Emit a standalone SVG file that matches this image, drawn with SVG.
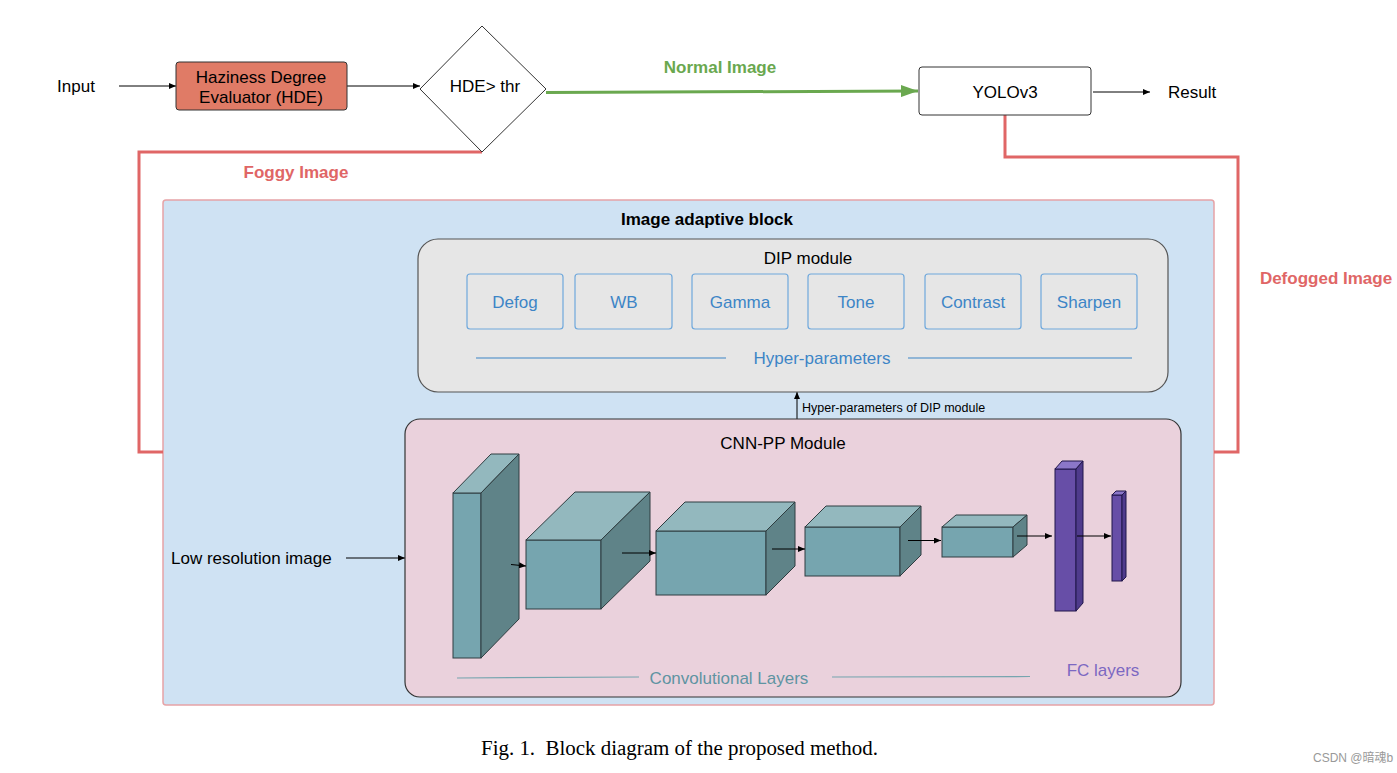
<svg xmlns="http://www.w3.org/2000/svg" width="1397" height="773" viewBox="0 0 1397 773">
<style>
text{font-family:"Liberation Sans",Arial,sans-serif;font-size:17px;fill:#000}
.c{text-anchor:middle;dominant-baseline:central}
.b{font-weight:bold}
.blue{fill:#3d85c6}
.bx{fill:none;stroke:#6fa8dc;stroke-width:1.2}
.ln{fill:none;stroke:#000;stroke-width:1}
.red{fill:none;stroke:#e06666;stroke-width:3}
.tf{fill:#76a5af;stroke:#2f3d40;stroke-width:1}
.tt{fill:#93b8be;stroke:#2f3d40;stroke-width:1}
.ts{fill:#5f8388;stroke:#2f3d40;stroke-width:1}
.pf{fill:#674ea7;stroke:#21174a;stroke-width:1}
.pt{fill:#8b77c9;stroke:#21174a;stroke-width:1}
.ps{fill:#4f3b8c;stroke:#21174a;stroke-width:1}
</style>
<defs>
<marker id="ah" markerUnits="userSpaceOnUse" markerWidth="8" markerHeight="6" refX="7" refY="3" orient="auto"><path d="M0,0 L7,3 L0,6 z" fill="#000"/></marker>
<marker id="gh" markerUnits="userSpaceOnUse" markerWidth="18" markerHeight="12" refX="17" refY="6" orient="auto"><path d="M0,0 L17,6 L0,12 z" fill="#6aa84f"/></marker>
</defs>
<rect width="1397" height="773" fill="#fff"/>

<g id="image-adaptive-block">
<rect x="163" y="200" width="1051" height="505" rx="3" fill="#cfe2f3" stroke="#e6a3a6" stroke-width="1.5"/>
<text class="c b" x="707" y="219">Image adaptive block</text>
</g>

<g id="connectors">
<line class="ln" x1="119" y1="86" x2="176" y2="86" marker-end="url(#ah)"/>
<line class="ln" x1="347" y1="86" x2="420" y2="86" marker-end="url(#ah)"/>
<line x1="546" y1="92.5" x2="918" y2="91" stroke="#6aa84f" stroke-width="3" marker-end="url(#gh)"/>
<line class="ln" x1="1093" y1="92" x2="1150" y2="92" marker-end="url(#ah)"/>
<polyline class="red" points="482,152 139,152 139,452 163,452"/>
<polyline class="red" points="1005,115 1005,157 1238,157 1238,452 1214,452"/>
<line class="ln" x1="346" y1="558" x2="405" y2="558" marker-end="url(#ah)"/>
<line class="ln" x1="797" y1="419" x2="797" y2="392" marker-end="url(#ah)"/>
</g>

<g id="labels">
<text class="c" x="76" y="86">Input</text>
<text class="c b" x="720" y="67" style="fill:#6aa84f">Normal Image</text>
<text class="c b" x="296" y="172" style="fill:#e06666">Foggy Image</text>
<text class="c b" x="1326" y="278" style="fill:#e06666">Defogged Image</text>
<text x="1168" y="98">Result</text>
<text x="171" y="564">Low resolution image</text>
<text x="802" y="412" style="font-size:12.5px">Hyper-parameters of DIP module</text>
</g>

<g id="hde">
<rect x="176" y="62" width="171" height="48" rx="3" fill="#e07b66" stroke="#333" stroke-width="1"/>
<text class="c" x="261" y="77">Haziness Degree</text>
<text class="c" x="261" y="97">Evaluator (HDE)</text>
</g>

<g id="decision">
<polygon points="482,26 546,89 482,152 420,89" fill="#fff" stroke="#333" stroke-width="1"/>
<text class="c" x="485" y="86">HDE&gt; thr</text>
</g>

<g id="yolo">
<rect x="919" y="67" width="172" height="48" rx="3" fill="#fff" stroke="#333" stroke-width="1"/>
<text class="c" x="1005" y="92">YOLOv3</text>
</g>

<g id="dip-module">
<rect x="418" y="239" width="750" height="153" rx="20" fill="#e6e6e6" stroke="#555" stroke-width="1.2"/>
<text class="c" x="808" y="258">DIP module</text>
<rect class="bx" x="467" y="274" width="96" height="55" rx="3"/>
<text class="c blue" x="515" y="302">Defog</text>
<rect class="bx" x="575" y="274" width="97" height="55" rx="3"/>
<text class="c blue" x="624" y="302">WB</text>
<rect class="bx" x="692" y="274" width="96" height="55" rx="3"/>
<text class="c blue" x="740" y="302">Gamma</text>
<rect class="bx" x="808" y="274" width="96" height="55" rx="3"/>
<text class="c blue" x="856" y="302">Tone</text>
<rect class="bx" x="925" y="274" width="96" height="55" rx="3"/>
<text class="c blue" x="973" y="302">Contrast</text>
<rect class="bx" x="1041" y="274" width="96" height="55" rx="3"/>
<text class="c blue" x="1089" y="302">Sharpen</text>
<line x1="476" y1="358" x2="726" y2="358" stroke="#3d85c6" stroke-width="1"/>
<line x1="908" y1="358" x2="1132" y2="358" stroke="#3d85c6" stroke-width="1"/>
<text class="c blue" x="822" y="358">Hyper-parameters</text>
</g>

<g id="cnn-pp-module">
<rect x="405" y="419" width="776" height="278" rx="15" fill="#ead1dc" stroke="#333" stroke-width="1.2"/>
<text class="c" x="783" y="443">CNN-PP Module</text>

<g id="conv1">
<rect class="tf" x="453" y="493" width="28" height="165"/>
<polygon class="tt" points="453,493 491,454 519,454 481,493"/>
<polygon class="ts" points="481,493 519,454 519,619 481,658"/>
</g>
<g id="conv2">
<rect class="tf" x="526" y="540" width="75" height="69"/>
<polygon class="tt" points="526,540 575,492 650,492 601,540"/>
<polygon class="ts" points="601,540 650,492 650,561 601,609"/>
</g>
<g id="conv3">
<rect class="tf" x="656" y="531" width="110" height="64"/>
<polygon class="tt" points="656,531 685,502 795,502 766,531"/>
<polygon class="ts" points="766,531 795,502 795,566 766,595"/>
</g>
<g id="conv4">
<rect class="tf" x="805" y="527" width="95" height="49"/>
<polygon class="tt" points="805,527 826,506 921,506 900,527"/>
<polygon class="ts" points="900,527 921,506 921,555 900,576"/>
</g>
<g id="conv5">
<rect class="tf" x="942" y="527" width="71" height="30"/>
<polygon class="tt" points="942,527 956,515 1027,515 1013,527"/>
<polygon class="ts" points="1013,527 1027,515 1027,545 1013,557"/>
</g>
<g id="fc1">
<rect class="pf" x="1055" y="469" width="21" height="142"/>
<polygon class="pt" points="1055,469 1062,461 1083,461 1076,469"/>
<polygon class="ps" points="1076,469 1083,461 1083,603 1076,611"/>
</g>
<g id="fc2">
<rect class="pf" x="1112" y="495" width="10" height="86"/>
<polygon class="pt" points="1112,495 1116,491 1126,491 1122,495"/>
<polygon class="ps" points="1122,495 1126,491 1126,577 1122,581"/>
</g>

<g id="layer-arrows">
<line class="ln" x1="511" y1="564.5" x2="526" y2="566" marker-end="url(#ah)"/>
<line class="ln" x1="622" y1="553" x2="656" y2="553" marker-end="url(#ah)"/>
<line class="ln" x1="772" y1="549" x2="805" y2="549" marker-end="url(#ah)"/>
<line class="ln" x1="908" y1="540.5" x2="941" y2="540.5" marker-end="url(#ah)"/>
<line class="ln" x1="1017" y1="536" x2="1052" y2="536" marker-end="url(#ah)"/>
<line class="ln" x1="1077" y1="536" x2="1111" y2="536" marker-end="url(#ah)"/>
</g>

<line x1="457" y1="678" x2="639" y2="677" stroke="#76a5af" stroke-width="1.2"/>
<line x1="832" y1="677" x2="1030" y2="676.5" stroke="#76a5af" stroke-width="1.2"/>
<text class="c" x="729" y="678" style="fill:#5f94a2">Convolutional Layers</text>
<text class="c" x="1103" y="670" style="fill:#7c68c2">FC layers</text>
</g>

<g id="caption">
<text x="481" y="755" xml:space="preserve" style="font-family:'Liberation Serif','Times New Roman',serif;font-size:20px;white-space:pre" textLength="397" lengthAdjust="spacingAndGlyphs">Fig. 1.  Block diagram of the proposed method.</text>
<text x="1313" y="762" style="font-family:'Liberation Sans','Noto Sans CJK SC',sans-serif;font-size:12px;fill:#999">CSDN @暗魂b</text>
</g>
</svg>
